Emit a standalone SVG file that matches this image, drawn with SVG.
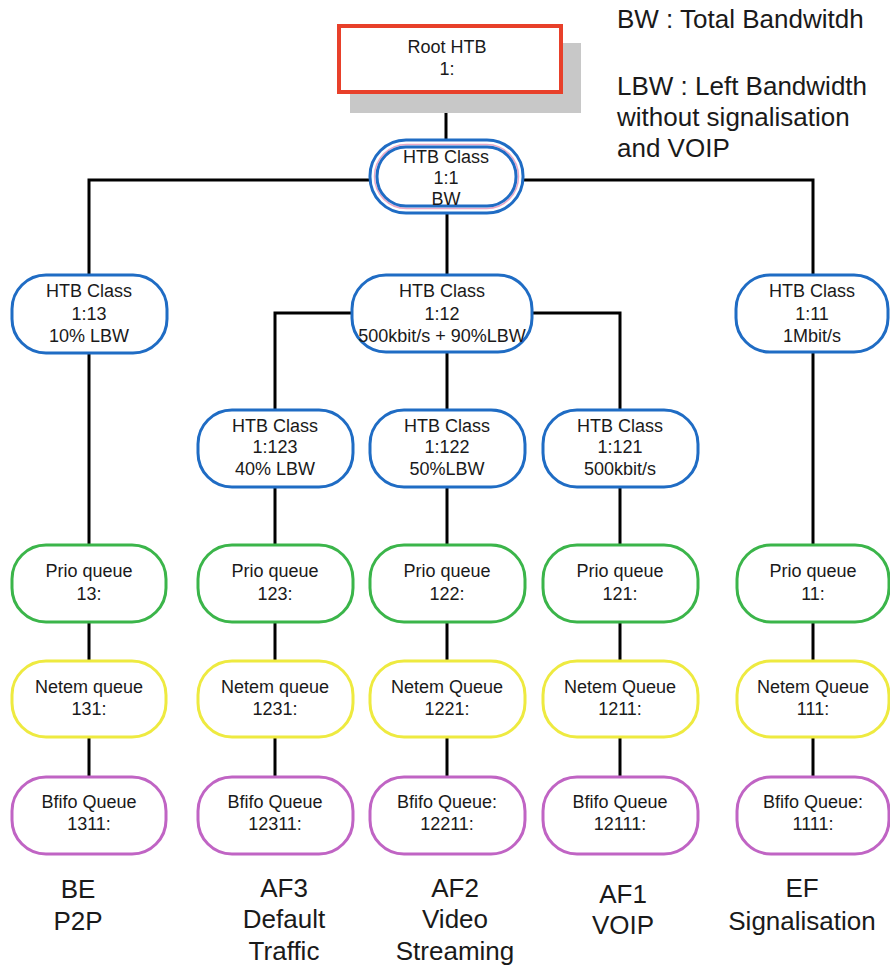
<svg xmlns="http://www.w3.org/2000/svg" width="890" height="965" viewBox="0 0 890 965">
<style>
text{font-family:"Liberation Sans",Arial,sans-serif;fill:#1a1a1a}
.n{font-size:18px;text-anchor:middle}
.lab{font-size:26px;text-anchor:middle}
.leg{font-size:26px}
.htb{fill:#fff;stroke:#1f6cc4;stroke-width:3}
.prio{fill:#fff;stroke:#3bb54a;stroke-width:3}
.netem{fill:#fff;stroke:#eeea40;stroke-width:3}
.bfifo{fill:#fff;stroke:#c064c4;stroke-width:3}
.c{fill:none;stroke:#000;stroke-width:3}
</style>
<rect width="890" height="965" fill="#fff"/>
<g id="connectors">
<path class="c" d="M446 92V141"/>
<path class="c" d="M370 180H89V275"/>
<path class="c" d="M523 180H813V275"/>
<path class="c" d="M447 213V275"/>
<path class="c" d="M89 353V545"/>
<path class="c" d="M813 352V545"/>
<path class="c" d="M352 313H275V410"/>
<path class="c" d="M532 313H620V410"/>
<path class="c" d="M447 352V410"/>
<path class="c" d="M275 487V545M447 487V545M620 487V545"/>
<path class="c" d="M89 622V661M275 622V661M447 622V661M620 622V661M813 622V661"/>
<path class="c" d="M89 737V777M275 737V777M447 737V777M620 737V777M813 737V777"/>
</g>
<g id="root">
<rect x="350" y="43" width="231" height="70" fill="#c8c8c8"/>
<rect x="339" y="26" width="222" height="66" fill="#fff" stroke="#e8402a" stroke-width="4"/>
<text class="n" x="447" y="53">Root HTB</text>
<text class="n" x="447" y="75">1:</text>
</g>
<g id="htb_1_1">
<rect x="370" y="140" width="153" height="73" rx="36" class="htb"/>
<rect x="374.5" y="144.5" width="144" height="64" rx="32" fill="none" stroke="#e8a8c8" stroke-width="1.5"/>
<rect x="377" y="147" width="139" height="59" rx="29" fill="none" stroke="#1f6cc4" stroke-width="3"/>
<text class="n" x="446" y="163">HTB Class</text>
<text class="n" x="446" y="184">1:1</text>
<text class="n" x="446" y="205">BW</text>
</g>
<g id="htb_1_13">
<rect x="12" y="275" width="155" height="78" rx="34" class="htb"/>
<text class="n" x="89" y="297">HTB Class</text>
<text class="n" x="89" y="320">1:13</text>
<text class="n" x="89" y="342">10% LBW</text>
</g>
<g id="htb_1_12">
<rect x="352" y="275" width="180" height="77" rx="34" class="htb"/>
<text class="n" x="442" y="297">HTB Class</text>
<text class="n" x="442" y="320">1:12</text>
<text class="n" x="442" y="342">500kbit/s + 90%LBW</text>
</g>
<g id="htb_1_11">
<rect x="736" y="275" width="152" height="77" rx="34" class="htb"/>
<text class="n" x="812" y="297">HTB Class</text>
<text class="n" x="812" y="320">1:11</text>
<text class="n" x="812" y="342">1Mbit/s</text>
</g>
<g id="htb_1_123">
<rect x="198" y="410" width="155" height="77" rx="34" class="htb"/>
<text class="n" x="275" y="432">HTB Class</text>
<text class="n" x="275" y="453">1:123</text>
<text class="n" x="275" y="475">40% LBW</text>
</g>
<g id="htb_1_122">
<rect x="370" y="410" width="155" height="77" rx="34" class="htb"/>
<text class="n" x="447" y="432">HTB Class</text>
<text class="n" x="447" y="453">1:122</text>
<text class="n" x="447" y="475">50%LBW</text>
</g>
<g id="htb_1_121">
<rect x="543" y="410" width="155" height="77" rx="34" class="htb"/>
<text class="n" x="620" y="432">HTB Class</text>
<text class="n" x="620" y="453">1:121</text>
<text class="n" x="620" y="475">500kbit/s</text>
</g>
<g id="prio_13">
<rect x="12" y="545" width="154" height="77" rx="34" class="prio"/>
<text class="n" x="89" y="577">Prio queue</text>
<text class="n" x="89" y="600">13:</text>
</g>
<g id="prio_123">
<rect x="198" y="545" width="155" height="77" rx="34" class="prio"/>
<text class="n" x="275" y="577">Prio queue</text>
<text class="n" x="275" y="600">123:</text>
</g>
<g id="prio_122">
<rect x="370" y="545" width="155" height="77" rx="34" class="prio"/>
<text class="n" x="447" y="577">Prio queue</text>
<text class="n" x="447" y="600">122:</text>
</g>
<g id="prio_121">
<rect x="543" y="545" width="155" height="77" rx="34" class="prio"/>
<text class="n" x="620" y="577">Prio queue</text>
<text class="n" x="620" y="600">121:</text>
</g>
<g id="prio_11">
<rect x="737" y="545" width="152" height="77" rx="34" class="prio"/>
<text class="n" x="813" y="577">Prio queue</text>
<text class="n" x="813" y="600">11:</text>
</g>
<g id="netem_131">
<rect x="12" y="661" width="154" height="76" rx="34" class="netem"/>
<text class="n" x="89" y="693">Netem queue</text>
<text class="n" x="89" y="715">131:</text>
</g>
<g id="netem_1231">
<rect x="198" y="661" width="155" height="76" rx="34" class="netem"/>
<text class="n" x="275" y="693">Netem queue</text>
<text class="n" x="275" y="715">1231:</text>
</g>
<g id="netem_1221">
<rect x="370" y="661" width="155" height="76" rx="34" class="netem"/>
<text class="n" x="447" y="693">Netem Queue</text>
<text class="n" x="447" y="715">1221:</text>
</g>
<g id="netem_1211">
<rect x="543" y="661" width="155" height="76" rx="34" class="netem"/>
<text class="n" x="620" y="693">Netem Queue</text>
<text class="n" x="620" y="715">1211:</text>
</g>
<g id="netem_111">
<rect x="737" y="661" width="152" height="76" rx="34" class="netem"/>
<text class="n" x="813" y="693">Netem Queue</text>
<text class="n" x="813" y="715">111:</text>
</g>
<g id="bfifo_1311">
<rect x="12" y="777" width="154" height="77" rx="34" class="bfifo"/>
<text class="n" x="89" y="808">Bfifo Queue</text>
<text class="n" x="89" y="830">1311:</text>
</g>
<g id="bfifo_12311">
<rect x="198" y="777" width="155" height="77" rx="34" class="bfifo"/>
<text class="n" x="275" y="808">Bfifo Queue</text>
<text class="n" x="275" y="830">12311:</text>
</g>
<g id="bfifo_12211">
<rect x="370" y="777" width="155" height="77" rx="34" class="bfifo"/>
<text class="n" x="447" y="808">Bfifo Queue:</text>
<text class="n" x="447" y="830">12211:</text>
</g>
<g id="bfifo_12111">
<rect x="543" y="777" width="155" height="77" rx="34" class="bfifo"/>
<text class="n" x="620" y="808">Bfifo Queue</text>
<text class="n" x="620" y="830">12111:</text>
</g>
<g id="bfifo_1111">
<rect x="737" y="777" width="152" height="77" rx="34" class="bfifo"/>
<text class="n" x="813" y="808">Bfifo Queue:</text>
<text class="n" x="813" y="830">1111:</text>
</g>
<g id="labels">
<text class="lab" x="78" y="898">BE</text>
<text class="lab" x="78" y="930">P2P</text>
<text class="lab" x="284" y="897">AF3</text>
<text class="lab" x="284" y="928">Default</text>
<text class="lab" x="284" y="960">Traffic</text>
<text class="lab" x="455" y="897">AF2</text>
<text class="lab" x="455" y="928">Video</text>
<text class="lab" x="455" y="960">Streaming</text>
<text class="lab" x="623" y="903">AF1</text>
<text class="lab" x="623" y="934">VOIP</text>
<text class="lab" x="802" y="897">EF</text>
<text class="lab" x="802" y="930">Signalisation</text>
</g>
<g id="legend">
<text class="leg" x="617" y="28">BW : Total Bandwitdh</text>
<text class="leg" x="617" y="95">LBW : Left Bandwidth</text>
<text class="leg" x="617" y="126">without signalisation</text>
<text class="leg" x="617" y="157">and VOIP</text>
</g>
</svg>
